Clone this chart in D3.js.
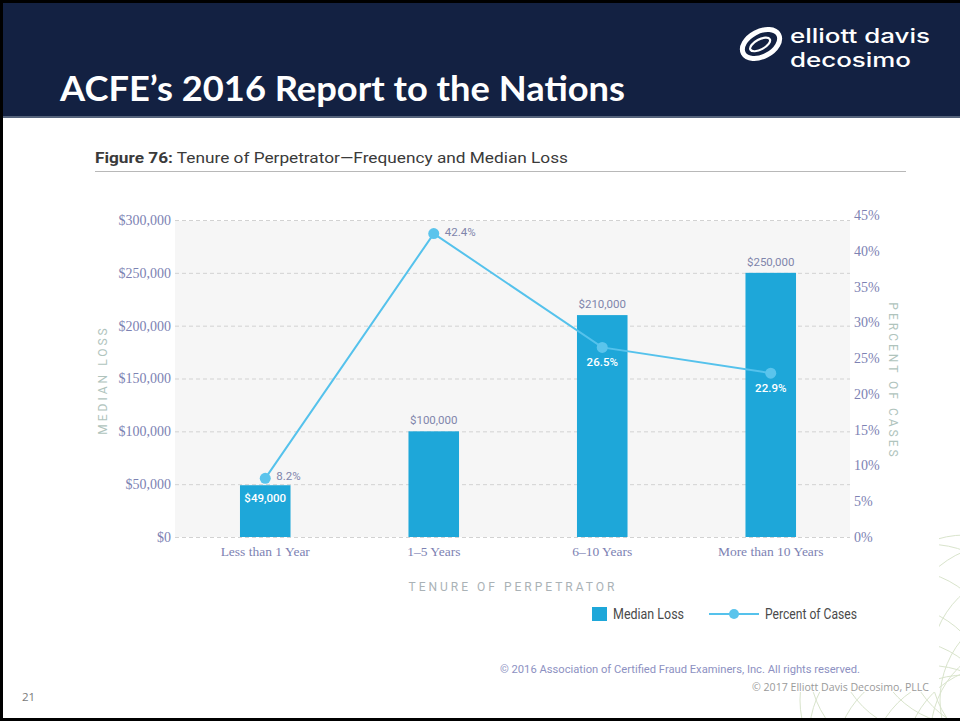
<!DOCTYPE html>
<html>
<head>
<meta charset="utf-8">
<script src="https://cdn.jsdelivr.net/npm/d3@7"></script>
<style>
  html, body { margin: 0; padding: 0; background: #fff; }
  svg { display: block; }
</style>
</head>
<body>
<svg id="slide" width="960" height="721"></svg>
<script>
// ---- data ----
const categories = ["Less than 1 Year", "1–5 Years", "6–10 Years", "More than 10 Years"];
const medianLoss = [49000, 100000, 210000, 250000];
const percentCases = [8.2, 42.4, 26.5, 22.9];
const lossTicks = [0, 50000, 100000, 150000, 200000, 250000, 300000];
const pctTicks = [0, 5, 10, 15, 20, 25, 30, 35, 40, 45];

const BAR = "#1ea7d9";
const LINE = "#55c2ec";
const TICK = "#7d82b3";
const VALUE = "#8085ab";
const AXIS_TITLE = "#b0c4bd";

const svg = d3.select("#slide");

// ---- slide background decoration (faint rosette lower right) ----
const deco = svg.append("g").attr("fill", "none").attr("stroke", "#d9e4cc").attr("stroke-width", 1);
const rc = [965, 700];
d3.range(12).forEach(i => {
  const a = i * Math.PI / 6;
  deco.append("circle")
    .attr("cx", rc[0] + 70 * Math.cos(a))
    .attr("cy", rc[1] + 70 * Math.sin(a))
    .attr("r", 95);
});

// white content panel
svg.append("rect").attr("x", 0).attr("y", 118).attr("width", 939).attr("height", 574).attr("fill", "#fff");

// ---- header ----
svg.append("rect").attr("x", 0).attr("y", 0).attr("width", 960).attr("height", 118).attr("fill", "#132142");
svg.append("rect").attr("x", 0).attr("y", 116).attr("width", 960).attr("height", 2).attr("fill", "#56647c");
svg.append("text")
  .attr("x", 60).attr("y", 101)
  .attr("font-family", "Lato, 'Open Sans', sans-serif")
  .attr("font-weight", 700).attr("font-size", 34)
  .attr("fill", "#fff")
  .attr("textLength", 565).attr("lengthAdjust", "spacingAndGlyphs")
  .text("ACFE’s 2016 Report to the Nations");

// logo mark and wordmark
const logo = svg.append("g").attr("transform", "translate(761,44) rotate(-28)");
logo.append("ellipse").attr("rx", 20).attr("ry", 12.5).attr("fill", "none").attr("stroke", "#fff").attr("stroke-width", 5);
logo.append("ellipse").attr("rx", 11).attr("ry", 5).attr("fill", "none").attr("stroke", "#fff").attr("stroke-width", 2.2).attr("transform", "translate(-1,0)");
const wordFont = "Inter, 'Open Sans', sans-serif";
svg.append("text").attr("x", 790).attr("y", 43)
  .attr("font-family", wordFont).attr("font-size", 19.5).attr("font-weight", 500).attr("fill", "#fff")
  .attr("textLength", 140).attr("lengthAdjust", "spacingAndGlyphs").text("elliott davis");
svg.append("text").attr("x", 790).attr("y", 67)
  .attr("font-family", wordFont).attr("font-size", 19.5).attr("font-weight", 500).attr("fill", "#fff")
  .attr("textLength", 121).attr("lengthAdjust", "spacingAndGlyphs").text("decosimo");

// ---- figure heading ----
const fig = svg.append("text").attr("x", 95).attr("y", 163)
  .attr("font-family", "'Liberation Sans Narrow', Roboto, sans-serif").attr("font-size", 15.5).attr("fill", "#3a3a3a")
  .attr("textLength", 473).attr("lengthAdjust", "spacingAndGlyphs");
fig.append("tspan").attr("font-weight", 700).text("Figure 76:");
fig.append("tspan").text(" Tenure of Perpetrator—Frequency and Median Loss");
svg.append("line").attr("x1", 95).attr("x2", 906).attr("y1", 171.5).attr("y2", 171.5)
  .attr("stroke", "#b8b8b8").attr("stroke-width", 1);

// ---- chart ----
const plot = { left: 175, right: 850, top: 221, bottom: 537 };

const x = d3.scaleBand().domain(categories).range([181, 855]).paddingInner(0.7).paddingOuter(0.35);
const yLoss = d3.scaleLinear().domain([0, 300000]).range([plot.bottom, 220]);
const yPct = d3.scaleLinear().domain([0, 45]).range([plot.bottom, 215]);

svg.append("rect").attr("x", plot.left).attr("y", plot.top)
  .attr("width", plot.right - plot.left).attr("height", plot.bottom - plot.top)
  .attr("fill", "#f6f6f6");

// left axis with dashed gridlines
const leftAxis = svg.append("g").attr("transform", `translate(${plot.left},0)`)
  .call(d3.axisLeft(yLoss).tickValues(lossTicks).tickFormat(d3.format("$,"))
    .tickSize(-(plot.right - plot.left)).tickPadding(4));
leftAxis.select(".domain").remove();
leftAxis.selectAll("line").attr("stroke", "#d2d2d2").attr("stroke-dasharray", "4,3");
leftAxis.selectAll("text").attr("fill", TICK)
  .attr("font-family", "'Liberation Serif', 'DejaVu Serif', serif").attr("font-size", 14);

// right axis
const rightAxis = svg.append("g").attr("transform", `translate(${plot.right},0)`)
  .call(d3.axisRight(yPct).tickValues(pctTicks).tickFormat(d => d + "%").tickSize(0).tickPadding(4));
rightAxis.select(".domain").remove();
rightAxis.selectAll("text").attr("fill", TICK)
  .attr("font-family", "'Liberation Serif', 'DejaVu Serif', serif").attr("font-size", 14);

// category axis
const bottomAxis = svg.append("g").attr("transform", `translate(0,${plot.bottom})`)
  .call(d3.axisBottom(x).tickSize(0).tickPadding(9));
bottomAxis.select(".domain").remove();
bottomAxis.selectAll("text").attr("fill", TICK)
  .attr("font-family", "'Liberation Serif', 'DejaVu Serif', serif").attr("font-size", 13.5);

// axis titles
const titleFont = "Roboto, 'Liberation Sans', sans-serif";
svg.append("text").attr("transform", "translate(107,380) rotate(-90)")
  .attr("text-anchor", "middle").attr("font-family", titleFont).attr("font-size", 12)
  .attr("letter-spacing", 3).attr("fill", AXIS_TITLE).text("MEDIAN LOSS");
svg.append("text").attr("transform", "translate(889,381) rotate(90)")
  .attr("text-anchor", "middle").attr("font-family", titleFont).attr("font-size", 12)
  .attr("letter-spacing", 3).attr("fill", AXIS_TITLE).text("PERCENT OF CASES");
svg.append("text").attr("x", 513).attr("y", 591)
  .attr("text-anchor", "middle").attr("font-family", titleFont).attr("font-size", 12)
  .attr("letter-spacing", 3).attr("fill", "#aab2b6").text("TENURE OF PERPETRATOR");

// bars
const rows = categories.map((c, i) => ({ c, loss: medianLoss[i], pct: percentCases[i], i }));
svg.append("g").selectAll("rect").data(rows).join("rect")
  .attr("x", d => x(d.c)).attr("width", x.bandwidth())
  .attr("y", d => yLoss(d.loss)).attr("height", d => plot.bottom - yLoss(d.loss))
  .attr("fill", BAR);

// bar value labels: inside for the short first bar, above the others
const valFont = "Roboto, 'Liberation Sans', sans-serif";
svg.append("g").selectAll("text").data(rows).join("text")
  .attr("x", d => x(d.c) + x.bandwidth() / 2)
  .attr("y", d => d.i === 0 ? yLoss(d.loss) + 17 : yLoss(d.loss) - 7)
  .attr("text-anchor", "middle")
  .attr("font-family", valFont).attr("font-size", 11.5)
  .attr("font-weight", d => d.i === 0 ? 500 : 400)
  .attr("fill", d => d.i === 0 ? "#fff" : VALUE)
  .text(d => d3.format("$,")(d.loss));

// percent line
const cx = d => x(d.c) + x.bandwidth() / 2;
svg.append("path").datum(rows)
  .attr("fill", "none").attr("stroke", LINE).attr("stroke-width", 2)
  .attr("d", d3.line().x(cx).y(d => yPct(d.pct)));
svg.append("g").selectAll("circle").data(rows).join("circle")
  .attr("cx", cx).attr("cy", d => yPct(d.pct)).attr("r", 5.5)
  .attr("fill", "#5bc4ec");

// percent labels: beside the point on the first two, below it inside the bar on the rest
svg.append("g").selectAll("text").data(rows).join("text")
  .attr("x", d => d.i < 2 ? cx(d) + 11 : cx(d))
  .attr("y", d => d.i < 2 ? yPct(d.pct) + 2 : yPct(d.pct) + 19)
  .attr("text-anchor", d => d.i < 2 ? "start" : "middle")
  .attr("font-family", valFont).attr("font-size", 11.5)
  .attr("font-weight", d => d.i < 2 ? 400 : 500)
  .attr("fill", d => d.i < 2 ? VALUE : "#fff")
  .text(d => d.pct.toFixed(1) + "%");

// legend
const legFont = "'Liberation Sans Narrow', Roboto, sans-serif";
svg.append("rect").attr("x", 592).attr("y", 607).attr("width", 15).attr("height", 14).attr("fill", BAR);
svg.append("text").attr("x", 613).attr("y", 619).attr("font-family", legFont).attr("font-size", 14.5)
  .attr("fill", "#4a4a4a").attr("textLength", 71).attr("lengthAdjust", "spacingAndGlyphs").text("Median Loss");
svg.append("line").attr("x1", 709).attr("x2", 759).attr("y1", 614).attr("y2", 614)
  .attr("stroke", LINE).attr("stroke-width", 2);
svg.append("circle").attr("cx", 734).attr("cy", 614).attr("r", 5).attr("fill", "#5bc4ec");
svg.append("text").attr("x", 765).attr("y", 619).attr("font-family", legFont).attr("font-size", 14.5)
  .attr("fill", "#4a4a4a").attr("textLength", 92).attr("lengthAdjust", "spacingAndGlyphs").text("Percent of Cases");

// footers
svg.append("text").attr("x", 860).attr("y", 673).attr("text-anchor", "end")
  .attr("font-family", "Roboto, sans-serif").attr("font-size", 10.5).attr("fill", "#8d91c2")
  .attr("textLength", 360).attr("lengthAdjust", "spacingAndGlyphs")
  .text("© 2016 Association of Certified Fraud Examiners, Inc. All rights reserved.");
svg.append("text").attr("x", 929).attr("y", 691).attr("text-anchor", "end")
  .attr("font-family", "'Open Sans', sans-serif").attr("font-size", 10).attr("fill", "#9a9a9a")
  .attr("textLength", 177).attr("lengthAdjust", "spacingAndGlyphs")
  .text("© 2017 Elliott Davis Decosimo, PLLC");
svg.append("text").attr("x", 22).attr("y", 701)
  .attr("font-family", "'Open Sans', sans-serif").attr("font-size", 11.5).attr("fill", "#7a7a7a")
  .text("21");

// slide frame
svg.append("rect").attr("x", 0).attr("y", 0).attr("width", 3).attr("height", 721).attr("fill", "#000");
svg.append("rect").attr("x", 0).attr("y", 0).attr("width", 960).attr("height", 3).attr("fill", "#000");
svg.append("rect").attr("x", 0).attr("y", 718).attr("width", 960).attr("height", 3).attr("fill", "#000");
</script>
</body>
</html>
